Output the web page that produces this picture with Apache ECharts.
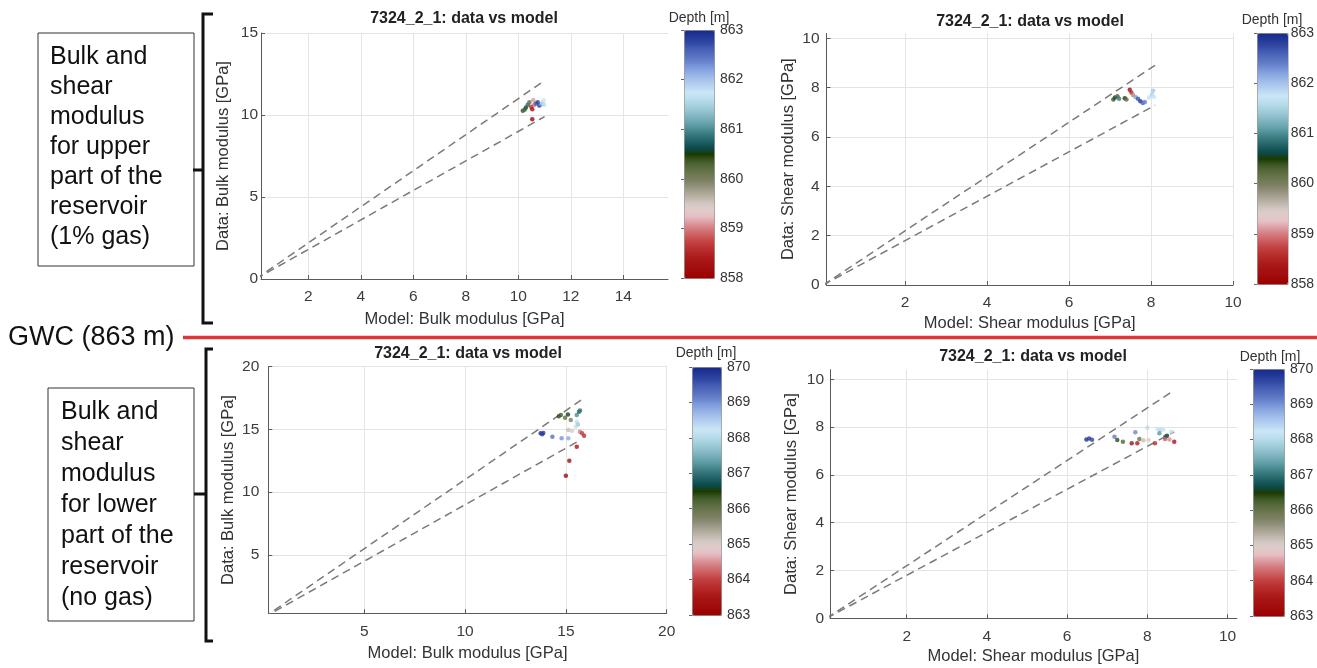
<!DOCTYPE html>
<html><head><meta charset="utf-8">
<script src="https://cdn.jsdelivr.net/npm/echarts@6/dist/echarts.min.js"></script>
<style>html,body{margin:0;padding:0;background:#fff}#c{width:1317px;height:668px}</style>
</head><body><div id="c"></div>
<script>
const FONT = '"Liberation Sans", Arial, sans-serif';

// Colormap (bottom -> top of colorbar)
const CMAP = ['#9a0000','#9f0808','#a41010','#a91616','#b22424','#bb3232','#c44444','#cd6062','#d57a7e','#dd9ca1',
  '#e6bfc4','#e0cccc','#d4c8c4','#bcb6aa','#a8a292','#8e8e78','#7a7e5e','#6a764e','#586a3c','#405a28',
  '#1c3a00','#0a4a4c','#1e5e62','#347478','#4a8c92','#66a2ac','#7eb2be','#94c4d0','#a8d2e0','#bcdeec',
  '#cae6f6','#b8d4f0','#a8c4ec','#94b0e4','#7e9cdc','#6882cc','#5670c0','#4460b4','#3248a4','#24389a','#172a8a'];

// Upper reservoir: bulk modulus
const upperBulkModel = [10.17,10.24,10.29,10.36,10.42,10.49,10.53,10.57,10.61,10.67,10.74,10.80,10.86,10.91,10.96,10.98,10.53];
const upperBulkData  = [10.26,10.32,10.45,10.62,10.78,10.50,10.35,10.90,10.62,10.70,10.78,10.58,10.66,10.72,10.88,10.62,9.74];
const upperBulkDepth = [860.4,860.3,860.6,860.8,860.2,858.6,858.3,859.1,858.9,862.6,862.8,862.9,862.3,861.9,861.7,861.6,858.1];
// Upper reservoir: shear modulus
const upperShearModel = [7.08,7.12,7.18,7.22,7.36,7.40,7.48,7.52,7.56,7.62,7.68,7.74,7.80,7.85,7.95,8.02,8.05,8.07];
const upperShearData  = [7.52,7.60,7.65,7.55,7.57,7.52,7.92,7.80,7.70,7.62,7.55,7.45,7.38,7.42,7.60,7.72,7.88,7.62];
const upperShearDepth = [860.4,860.6,860.3,860.9,860.5,860.2,858.2,858.5,859.0,861.2,862.7,862.9,862.6,862.4,861.8,861.9,862.0,861.7];
// Lower reservoir: bulk modulus
const lowerBulkModel = [13.75,13.82,13.88,14.33,14.79,15.12,14.65,14.75,14.96,15.10,15.24,15.54,15.65,15.70,15.54,15.49,15.60,15.12,15.30,15.70,15.90,15.80,15.54,15.17,15.00];
const lowerBulkData  = [14.70,14.62,14.72,14.42,14.29,14.29,16.05,16.15,15.94,16.20,15.75,16.15,16.42,16.50,15.62,15.22,15.40,14.96,14.90,14.82,14.50,14.70,13.63,12.51,11.31];
const lowerBulkDepth = [869.9,869.7,869.8,869.3,869.0,868.8,866.4,866.3,866.1,866.6,865.8,867.2,866.9,867.0,868.1,868.3,867.8,865.2,865.0,864.4,863.8,864.0,863.5,863.3,863.2];
// Lower reservoir: shear modulus
const lowerShearModel = [6.48,6.55,6.62,7.18,7.25,7.39,7.70,7.61,7.75,7.80,7.90,8.03,8.00,8.25,8.32,8.40,8.30,8.49,8.45,8.19,8.44,8.67,8.55,8.60];
const lowerShearData  = [7.48,7.52,7.47,7.60,7.46,7.39,7.78,7.32,7.32,7.50,7.45,7.46,7.97,7.92,7.88,7.90,7.74,7.64,7.60,7.32,7.50,7.39,7.48,7.80];
const lowerShearDepth = [869.9,869.8,869.7,869.2,866.4,866.2,869.1,863.4,863.6,866.0,865.2,865.0,868.4,868.2,868.0,868.3,867.3,866.6,866.8,863.8,864.2,863.5,864.5,868.1];

// +/-10% reference lines (start, end)
const upperBulkRefHi = [[0,0],[11,12.1]];
const upperBulkRefLo = [[0,0],[11,9.9]];
const upperShearRefHi = [[0,0],[8.1,8.91]];
const upperShearRefLo = [[0,0],[8.1,7.29]];
const lowerBulkRefHi = [[0,0],[15.75,17.33]];
const lowerBulkRefLo = [[0,0],[15.75,14.18]];
const lowerShearRefHi = [[0,0],[8.67,9.54]];
const lowerShearRefLo = [[0,0],[8.67,7.80]];

// Tick labels
const upperBulkXTicks = [2,4,6,8,10,12,14];
const upperBulkYTicks = [0,5,10,15];
const upperShearXTicks = [2,4,6,8,10];
const upperShearYTicks = [0,2,4,6,8,10];
const lowerBulkXTicks = [5,10,15,20];
const lowerBulkYTicks = [5,10,15,20];
const lowerShearXTicks = [2,4,6,8,10];
const lowerShearYTicks = [0,2,4,6,8,10];

const upperDepthRange = [858, 863];
const lowerDepthRange = [863, 870];

const TITLE = '7324_2_1: data vs model';

// ---- layout (pixels) ----
const panels = [
  {l:261, t:33, w:407, h:246, xr:[0.2,15.7], yr:[0,15], xt:upperBulkXTicks, yt:upperBulkYTicks,
   xn:'Model: Bulk modulus [GPa]', yn:'Data: Bulk modulus [GPa]', xg:32, yg:29, ym:3, tx:464, ty:18.5},
  {l:826.5, t:33.4, w:406.5, h:251.6, xr:[0.08,10], yr:[0,10.2], xt:upperShearXTicks, yt:upperShearYTicks,
   xn:'Model: Shear modulus [GPa]', yn:'Data: Shear modulus [GPa]', xg:30, yg:30, ym:7, tx:1030, ty:21.5},
  {l:268.3, t:366.7, w:398.4, h:246.6, xr:[0.24,20], yr:[0.35,20], xt:lowerBulkXTicks, yt:lowerBulkYTicks,
   xn:'Model: Bulk modulus [GPa]', yn:'Data: Bulk modulus [GPa]', xg:32, yg:31, ym:9, tx:468, ty:353.5},
  {l:830.1, t:369.7, w:406.7, h:248.6, xr:[0.09,10.23], yr:[0,10.4], xt:lowerShearXTicks, yt:lowerShearYTicks,
   xn:'Model: Shear modulus [GPa]', yn:'Data: Shear modulus [GPa]', xg:30, yg:30, ym:6, tx:1033, ty:356.5}
];
const cbars = [
  {l:684, t:30, w:30, h:248, r:upperDepthRange, tx:699, ty:18.5},
  {l:1257, t:33, w:30.5, h:251, r:upperDepthRange, tx:1272, ty:20.5},
  {l:692, t:367, w:29, h:248, r:lowerDepthRange, tx:706, ty:353},
  {l:1253, t:369, w:31, h:247, r:lowerDepthRange, tx:1270, ty:357}
];

const scatterSets = [
  [upperBulkModel, upperBulkData, upperBulkDepth],
  [upperShearModel, upperShearData, upperShearDepth],
  [lowerBulkModel, lowerBulkData, lowerBulkDepth],
  [lowerShearModel, lowerShearData, lowerShearDepth]
];
const refSets = [
  [upperBulkRefHi, upperBulkRefLo],
  [upperShearRefHi, upperShearRefLo],
  [lowerBulkRefHi, lowerBulkRefLo],
  [lowerShearRefHi, lowerShearRefLo]
];

const grid = [], xAxis = [], yAxis = [], series = [], visualMap = [], graphic = [];
const AX = '#5a5a5a', LBL = '#3c3c3c';

panels.forEach((p, i) => {
  grid.push({left:p.l, top:p.t, width:p.w, height:p.h, containLabel:false});
  xAxis.push({gridIndex:i, type:'value', min:p.xr[0], max:p.xr[1],
    name:p.xn, nameLocation:'middle', nameGap:p.xg,
    nameTextStyle:{fontSize:16.5, color:'#333', fontFamily:FONT},
    axisLine:{show:true, onZero:false, lineStyle:{color:AX, width:1}},
    axisTick:{show:true, inside:true, length:4, customValues:p.xt, lineStyle:{color:AX}},
    axisLabel:{customValues:p.xt, fontSize:15.5, color:LBL, fontFamily:FONT, margin:10},
    splitLine:{show:true, lineStyle:{color:'#e4e4e4', width:1}}});
  yAxis.push({gridIndex:i, type:'value', min:p.yr[0], max:p.yr[1],
    name:p.yn, nameLocation:'middle', nameGap:p.yg, nameRotate:90,
    nameTextStyle:{fontSize:16.5, color:'#333', fontFamily:FONT},
    axisLine:{show:true, onZero:false, lineStyle:{color:AX, width:1}},
    axisTick:{show:true, inside:true, length:4, customValues:p.yt, lineStyle:{color:AX}},
    axisLabel:{customValues:p.yt, fontSize:15.5, color:LBL, fontFamily:FONT, margin:p.ym},
    splitLine:{show:true, lineStyle:{color:'#e4e4e4', width:1}}});
  graphic.push({type:'text', x:p.tx, y:p.ty, z:100,
    style:{text:TITLE, fontSize:16, fontWeight:'bold', fontFamily:FONT, fill:'#222', align:'center', verticalAlign:'middle'}});
});

scatterSets.forEach((s, i) => {
  series.push({type:'scatter', xAxisIndex:i, yAxisIndex:i, symbol:'circle', symbolSize:4.5, z:5,
    data:s[0].map((x, k) => [x, s[1][k], s[2][k]])});
});
refSets.forEach((r, i) => {
  r.forEach(line => series.push({type:'line', xAxisIndex:i, yAxisIndex:i, data:line, showSymbol:false, symbol:'none',
    silent:true, z:2, clip:true, lineStyle:{type:[8,5], color:'#7a7a7a', width:1.5}}));
});

cbars.forEach((c, i) => {
  const gi = 4 + i;
  visualMap.push({type:'continuous', seriesIndex:i, dimension:2, min:c.r[0], max:c.r[1],
    left:c.l, top:c.t, itemWidth:c.w, itemHeight:c.h, text:null, calculable:false, hoverLink:false,
    padding:0, borderColor:'#8a8a8a', borderWidth:1, inRange:{color:CMAP}, showLabel:false});
  grid.push({left:c.l, top:c.t, width:c.w, height:c.h});
  xAxis.push({gridIndex:gi, type:'value', show:false, min:0, max:1});
  yAxis.push({gridIndex:gi, type:'value', position:'right', min:c.r[0], max:c.r[1], interval:1,
    axisLine:{show:false}, splitLine:{show:false},
    axisTick:{show:true, inside:true, length:3, lineStyle:{color:'#666'}},
    axisLabel:{fontSize:14, color:'#333', fontFamily:FONT, margin:6}});
  graphic.push({type:'text', x:c.tx, y:c.ty, z:100,
    style:{text:'Depth [m]', fontSize:14, fontFamily:FONT, fill:'#333', align:'center', verticalAlign:'middle'}});
});

// annotation boxes, braces, GWC line
graphic.push(
  {type:'rect', shape:{x:38, y:33, width:156, height:233}, style:{fill:'#fff', stroke:'#333', lineWidth:1}, z:50},
  {type:'text', x:50, y:41.7, z:51, style:{text:'Bulk and\nshear\nmodulus\nfor upper\npart of the\nreservoir\n(1% gas)',
    fontSize:25, lineHeight:30, fontFamily:FONT, fill:'#111', align:'left', verticalAlign:'top'}},
  {type:'rect', shape:{x:48, y:388, width:146, height:233}, style:{fill:'#fff', stroke:'#333', lineWidth:1}, z:50},
  {type:'text', x:61, y:396.2, z:51, style:{text:'Bulk and\nshear\nmodulus\nfor lower\npart of the\nreservoir\n(no gas)',
    fontSize:25, lineHeight:31, fontFamily:FONT, fill:'#111', align:'left', verticalAlign:'top'}},
  {type:'polyline', shape:{points:[[213,14],[203,14],[203,323],[213,323]]}, style:{stroke:'#111', lineWidth:3, fill:null}, z:50},
  {type:'polyline', shape:{points:[[193,170],[203,170]]}, style:{stroke:'#111', lineWidth:3, fill:null}, z:50},
  {type:'polyline', shape:{points:[[213,349],[206,349],[206,641],[213,641]]}, style:{stroke:'#111', lineWidth:3, fill:null}, z:50},
  {type:'polyline', shape:{points:[[194,494],[206,494]]}, style:{stroke:'#111', lineWidth:3, fill:null}, z:50},
  {type:'text', x:8, y:338, z:51, style:{text:'GWC (863 m)', fontSize:27, fontFamily:FONT, fill:'#111', align:'left', verticalAlign:'middle'}},
  {type:'line', shape:{x1:183, y1:337.5, x2:1317, y2:337.5}, style:{stroke:'#e03535', lineWidth:3.5}, z:50}
);

const chart = echarts.init(document.getElementById('c'), null, {renderer:'canvas'});
chart.setOption({animation:false, backgroundColor:'#fff', grid, xAxis, yAxis, series, visualMap, graphic});
</script></body></html>
